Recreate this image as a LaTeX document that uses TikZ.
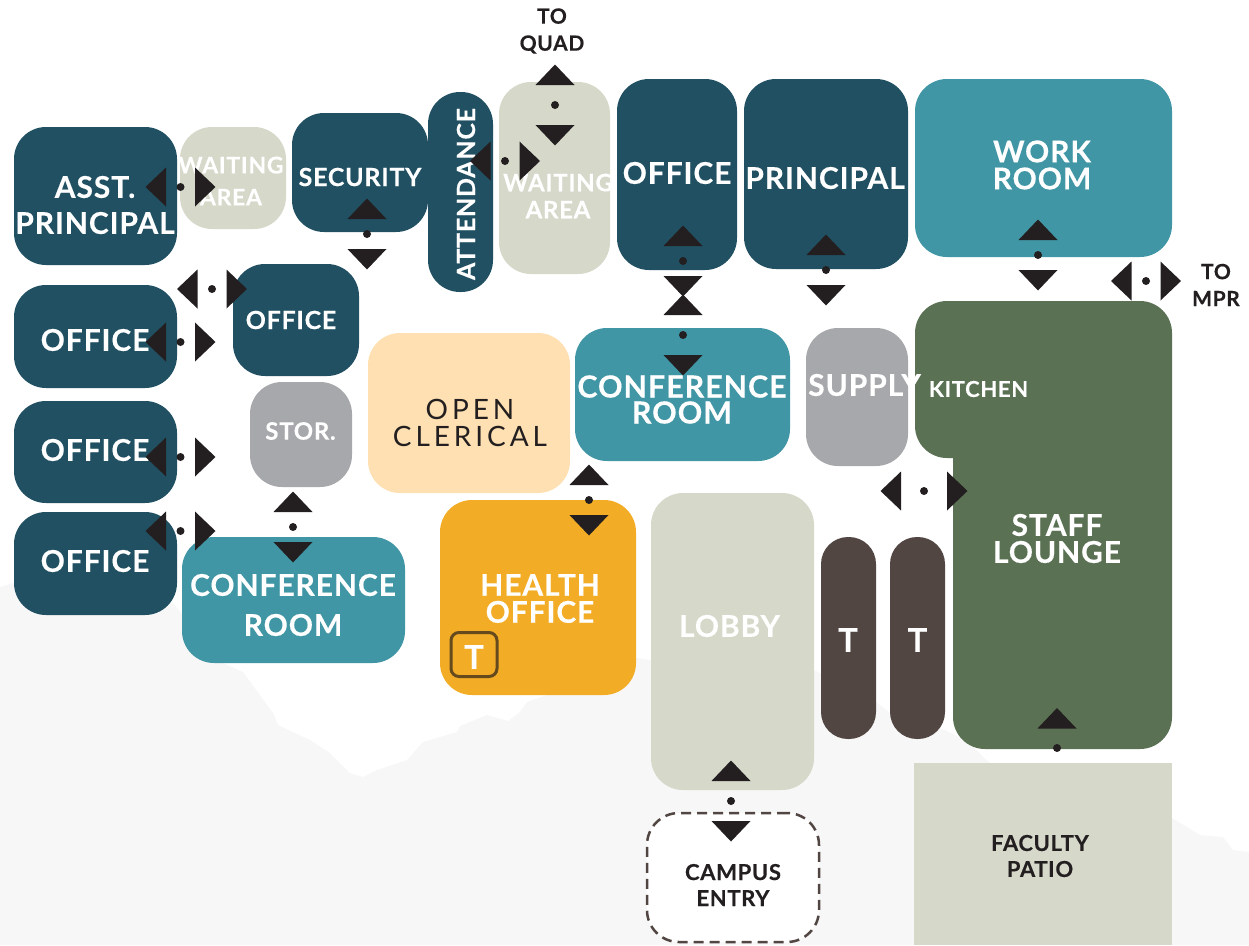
\documentclass[tikz,border=0pt]{standalone}
\usepackage{fontspec}
\setmainfont{Lato}[BoldFeatures={FakeBold=0.25, LetterSpace=3}]
\usepackage{xcolor}
\usetikzlibrary{positioning}
\definecolor{plan_navy}{RGB}{32, 80, 98}
\definecolor{plan_teal}{RGB}{64, 150, 164}
\definecolor{plan_sage}{RGB}{214, 216, 202}
\definecolor{plan_peach}{RGB}{254, 224, 178}
\definecolor{plan_orange}{RGB}{242, 172, 38}
\definecolor{plan_green}{RGB}{91, 113, 83}
\definecolor{plan_grey}{RGB}{167, 168, 171}
\definecolor{plan_brown}{RGB}{82, 70, 67}
\definecolor{plan_umber}{RGB}{101, 74, 30}
\definecolor{plan_dark}{RGB}{35, 31, 32}
\definecolor{plan_haze}{RGB}{247, 247, 247}
\newcommand{\fsz}[2]{\fontsize{#1}{#2}\selectfont}

\begin{document}
\begin{tikzpicture}[
    x=1pt, y=-1pt,
    room/.style={rounded corners=32pt, inner sep=0pt, outer sep=0pt},
    lab/.style={text=white, align=center, inner sep=0pt, font=\bfseries\fsz{30}{36}},
    darklab/.style={lab, text=plan_dark, font=\bfseries\fsz{22}{26}},
    doorh/.pic={
      \fill[plan_dark] ({-\g-20.5},0) -- (-\g,-19.5) -- (-\g,19.5) -- cycle;
      \fill[plan_dark] ({\g+20.5},0) -- (\g,-19.5) -- (\g,19.5) -- cycle;
      \fill[plan_dark] (0,0) circle (4);
    },
    doorv/.pic={
      \fill[plan_dark] (0,{-\g-20.5}) -- (-19.5,-\g) -- (19.5,-\g) -- cycle;
      \fill[plan_dark] (0,{\g+20.5}) -- (-19.5,\g) -- (19.5,\g) -- cycle;
      \fill[plan_dark] (0,0) circle (4);
    },
    doorup/.pic={
      \fill[plan_dark] (0,-40) -- (-19.5,-19.5) -- (19.5,-19.5) -- cycle;
      \fill[plan_dark] (0,0) circle (4);
    },
  ]
  \useasboundingbox (0,0) rectangle (1249,945);
  % hills behind the plan
  \fill[plan_haze] (0,587) -- (13,583) -- (173,603) -- (223,663) -- (243,672) -- (273,713) -- (278,725)
    -- (310,740) -- (330,753) -- (350,773) -- (363,777) -- (377,770) -- (407,760) -- (423,742)
    -- (457,732) -- (460,726) -- (487,715) -- (508,721) -- (520,712) -- (527,702) -- (547,695)
    -- (637,658) -- (650,660) -- (814,670) -- (876,702) -- (890,713) -- (945,730) -- (970,743)
    -- (983,757) -- (990,763) -- (1172,818) -- (1187,827) -- (1200,835) -- (1223,837)
    -- (1233,850) -- (1249,852) -- (1249,945) -- (0,945) -- cycle;

  % rooms
  \node[room, fill=plan_navy, minimum width=163, minimum height=138] (asst) at (95.5,196) {};
  \node[room, fill=plan_sage, minimum width=106, minimum height=102] (waitone) at (233,178) {};
  \node[room, fill=plan_navy, minimum width=136, minimum height=119] (security) at (360,172.5) {};
  \node[room, fill=plan_navy, minimum width=65, minimum height=200] (attendance) at (460.5,192) {};
  \node[room, fill=plan_sage, minimum width=111, minimum height=192] (waittwo) at (554.5,178) {};
  \node[room, fill=plan_navy, minimum width=120, minimum height=191] (office) at (677,174.5) {};
  \node[room, fill=plan_navy, minimum width=164, minimum height=190] (principal) at (826,174) {};
  \node[room, fill=plan_teal, minimum width=257, minimum height=178] (work) at (1043.5,168) {};
  \node[room, fill=plan_navy, minimum width=163, minimum height=103] (officea) at (95.5,336.5) {};
  \node[room, fill=plan_navy, minimum width=126, minimum height=112] (officeb) at (296,320) {};
  \node[room, fill=plan_grey, minimum width=102, minimum height=105] (stor) at (301,434.5) {};
  \node[room, fill=plan_navy, minimum width=163, minimum height=102] (officec) at (95.5,452) {};
  \node[room, fill=plan_navy, minimum width=163, minimum height=103] (officed) at (95.5,563.5) {};
  \node[room, fill=plan_teal, minimum width=223, minimum height=126] (confone) at (293.5,600) {};
  \node[room, fill=plan_peach, minimum width=202, minimum height=160] (clerical) at (469,413) {};
  \node[room, fill=plan_teal, minimum width=215, minimum height=133] (conftwo) at (682.5,394.5) {};
  \node[room, fill=plan_grey, minimum width=102, minimum height=138] (supply) at (857,397) {};
  \node[room, fill=plan_green, minimum width=135, minimum height=157] (kitchen) at (982.5,379.5) {};
  \node[room, fill=plan_green, minimum width=219, minimum height=448] (lounge) at (1062.5,525) {};
  \node[room, fill=plan_orange, minimum width=196, minimum height=195] (health) at (538,597.5) {};
  \node[room, fill=plan_sage, minimum width=163, minimum height=297] (lobby) at (732.5,641.5) {};
  \node[room, rounded corners=27pt, fill=plan_brown, minimum width=55, minimum height=202] (tone) at (848.5,638) {};
  \node[room, rounded corners=27pt, fill=plan_brown, minimum width=55, minimum height=202] (ttwo) at (917.5,638) {};
  \node[room, rounded corners=0pt, fill=plan_sage, minimum width=258, minimum height=182] (patio) at (1043,854) {};
  \node[room, fill=white, draw=plan_brown, line width=2.5pt, dash pattern=on 10pt off 6pt,
        minimum width=172, minimum height=129] (entry) at (733,877.5) {};
  \node[room, rounded corners=8pt, draw=plan_umber, line width=3pt,
        minimum width=46, minimum height=44] (tbox) at (474,654.5) {};

  % labels
  \node[lab] (asstlab) at (95,205) {ASST.\\PRINCIPAL};
  \node[lab, font=\bfseries\fsz{23}{32}] (waitonelab) at (231,181) {WAITING\\AREA};
  \node[lab, font=\bfseries\fsz{25}{30}] (securitylab) at (360,177) {SECURITY};
  \node[lab, rotate=90, font=\bfseries\fsz{25}{30}] (attendancelab) at (466,194) {ATTENDANCE};
  \node[lab, font=\bfseries\fsz{24}{27}] (waittwolab) at (558,196) {WAITING\\AREA};
  \node[lab] (officelab) at (677,173) {OFFICE};
  \node[lab] (principallab) at (825,178) {PRINCIPAL};
  \node[lab, font=\bfseries\fsz{30}{27}] (worklab) at (1042,165) {WORK\\ROOM};
  \node[lab] (officealab) at (95,340) {OFFICE};
  \node[lab, font=\bfseries\fsz{25}{30}] (officeblab) at (291,320) {OFFICE};
  \node[lab, font=\bfseries\fsz{24}{26}] (storlab) at (300.5,431) {STOR.};
  \node[lab] (officeclab) at (95,450) {OFFICE};
  \node[lab] (officedlab) at (95,561) {OFFICE};
  \node[lab, font=\bfseries\fsz{30}{40}] (confonelab) at (293,605) {CONFERENCE\\ROOM};
  \node[lab, text=plan_dark, font=\fsz{28}{27}\addfontfeature{LetterSpace=14}] (clericallab) at (470,422.5) {OPEN\\CLERICAL};
  \node[lab, font=\bfseries\fsz{30.5}{26}] (conftwolab) at (682,399.5) {CONFERENCE\\ROOM};
  \node[lab] (supplylab) at (864.5,385) {SUPPLY};
  \node[lab, font=\bfseries\fsz{22}{26}] (kitchenlab) at (978.5,389) {KITCHEN};
  \node[lab, font=\bfseries\fsz{30}{27}] (loungelab) at (1057,538.5) {STAFF\\LOUNGE};
  \node[lab, font=\bfseries\fsz{30}{27}] (healthlab) at (540,598.5) {HEALTH\\OFFICE};
  \node[lab] (lobbylab) at (729.5,626) {LOBBY};
  \node[lab, font=\bfseries\fsz{33}{36}] (tonelab) at (848,640) {T};
  \node[lab, font=\bfseries\fsz{33}{36}] (ttwolab) at (917.5,640) {T};
  \node[lab, font=\bfseries\fsz{33}{36}] (tboxlab) at (474,657) {T};
  \node[darklab] (patiolab) at (1040,856) {FACULTY\\PATIO};
  \node[darklab] (entrylab) at (733,885) {CAMPUS\\ENTRY};
  \node[darklab, font=\bfseries\fsz{21}{27}] (quadlab) at (552,31) {TO\\QUAD};
  \node[darklab, font=\bfseries\fsz{21}{27}] (mprlab) at (1216,285) {TO\\MPR};

  % doors
  \foreach \x/\y/\g in {180.5/187/14.5, 212/289/14.5, 180.5/342/14.5, 180.5/457/14.5, 180.5/531/14.5,
                        505/161/14.5, 924/491/23, 1146/281/14.5}
    \pic at (\x,\y) {doorh};
  \foreach \x/\y/\g in {367/234/15, 555/105/20, 683/261/15, 683/335/20, 826/270/15, 1038/255/15,
                        589/500/15, 293/527/15, 731/801/20}
    \pic at (\x,\y) {doorv};
  \pic at (1057,748) {doorup};
\end{tikzpicture}
\end{document}
